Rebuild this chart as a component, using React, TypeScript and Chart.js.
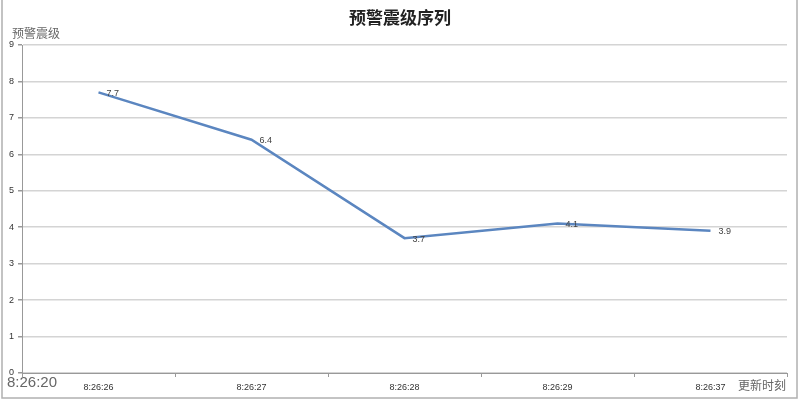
import React, { useEffect, useRef } from "react";
import { Chart, registerables } from "chart.js";

Chart.register(...registerables);

const categories = ["8:26:26", "8:26:27", "8:26:28", "8:26:29", "8:26:37"];
const magnitudes = [7.7, 6.4, 3.7, 4.1, 3.9];
const yTicks = [0, 1, 2, 3, 4, 5, 6, 7, 8, 9];
const titleText = "预警震级序列";
const yTitle = "预警震级";
const xStartLabel = "8:26:20";
const xTitle = "更新时刻";

const CJK = '"Noto Sans CJK SC", "Noto Sans", sans-serif';

const extras = {
  id: "extras",
  afterDatasetsDraw(chart: any) {
    const ctx = chart.ctx;
    const meta = chart.getDatasetMeta(0);
    ctx.save();
    ctx.fillStyle = "#404040";
    ctx.font = "9px Arial, 'Liberation Sans', sans-serif";
    ctx.textAlign = "left";
    ctx.textBaseline = "middle";
    meta.data.forEach((pt: any, i: number) => {
      ctx.fillText(String(magnitudes[i]), pt.x + 8, pt.y + 1);
    });
    ctx.restore();
  },
  afterDraw(chart: any) {
    const ctx = chart.ctx;
    ctx.save();
    // title
    ctx.fillStyle = "#222";
    ctx.font = "bold 17px " + CJK;
    ctx.textAlign = "center";
    ctx.textBaseline = "middle";
    ctx.fillText(titleText, 400, 18);
    // y title
    ctx.fillStyle = "#666";
    ctx.font = "12px " + CJK;
    ctx.textAlign = "left";
    ctx.fillText(yTitle, 12, 33);
    // start label
    ctx.fillStyle = "#666";
    ctx.font = "15px 'Liberation Sans', Arial, sans-serif";
    ctx.fillText(xStartLabel, 7, 383);
    // x title
    ctx.font = "12px " + CJK;
    ctx.fillStyle = "#666";
    ctx.fillText(xTitle, 738, 385);
    // frame
    ctx.strokeStyle = "#b0b0b0";
    ctx.lineWidth = 1.5;
    ctx.strokeRect(2, -2, 795, 400);
    ctx.restore();
  },
};

export default function App() {
  const ref = useRef<HTMLCanvasElement>(null);
  useEffect(() => {
    document.body.style.margin = "0";
    const chart = new Chart(ref.current!, {
      type: "line",
      data: {
        labels: categories,
        datasets: [
          {
            data: magnitudes,
            borderColor: "#5b86c0",
            borderWidth: 2.5,
            pointRadius: 0,
            tension: 0,
          },
        ],
      },
      options: {
        responsive: false,
        animation: false,
        layout: { padding: { top: 45, left: 0, right: 13, bottom: 0 } },
        plugins: { legend: { display: false }, title: { display: false }, tooltip: { enabled: false } },
        scales: {
          x: {
            offset: true,
            grid: { offset: true, drawOnChartArea: false, color: "#999", tickLength: 4 },
            border: { color: "#999", width: 1 },
            ticks: {
              color: "#333",
              font: { size: 9, family: "Arial, 'Liberation Sans', sans-serif" },
              padding: 5,
              maxRotation: 0,
              autoSkip: false,
            },
            afterFit(scale: any) {
              scale.height = 28;
            },
          },
          y: {
            min: 0,
            max: 9,
            afterBuildTicks(scale: any) {
              scale.ticks = yTicks.map((v) => ({ value: v }));
            },
            grid: { color: "#d4d4d4", lineWidth: 1.5, tickLength: 4, tickColor: "#999" },
            border: { color: "#999", width: 1 },
            ticks: {
              color: "#333",
              font: { size: 9, family: "Arial, 'Liberation Sans', sans-serif" },
              padding: 4,
            },
            afterFit(scale: any) {
              scale.width = 22;
            },
          },
        },
      },
      plugins: [extras],
    });
    return () => chart.destroy();
  }, []);
  return (
    <canvas
      ref={ref}
      width={800}
      height={401}
      style={{ position: "fixed", left: 0, top: 0, width: 800, height: 401, background: "#fff" }}
    />
  );
}
